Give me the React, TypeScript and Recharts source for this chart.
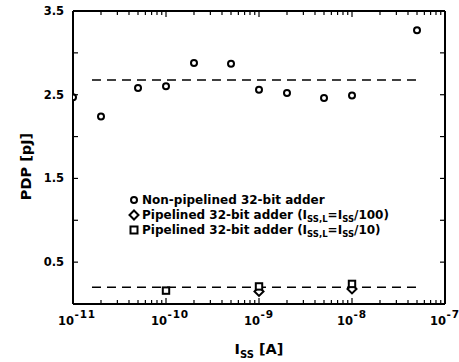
import React from 'react';
import { ScatterChart, Scatter, XAxis, YAxis, ReferenceLine, Legend } from 'recharts';

const FONT = '"DejaVu Sans", sans-serif';

// x positions (A) and PDP (pJ)
const nonPipeX = [1e-11, 2e-11, 5e-11, 1e-10, 2e-10, 5e-10, 1e-9, 2e-9, 5e-9, 1e-8, 5e-8];
const nonPipeY = [2.47, 2.24, 2.58, 2.6, 2.88, 2.87, 2.56, 2.52, 2.46, 2.49, 3.27];

const pipe100X = [1e-9, 1e-8];
const pipe100Y = [0.15, 0.18];

const pipe10X = [1e-10, 1e-9, 1e-8];
const pipe10Y = [0.16, 0.21, 0.24];

// dashed average lines
const avgRange = [1.6e-11, 5e-8];
const avgNonPipe = 2.675;
const avgPipe = 0.2;

const xMajor = [1e-11, 1e-10, 1e-9, 1e-8, 1e-7];
const xMajorExp = ['-11', '-10', '-9', '-8', '-7'];
const xMinorMult = [2, 3, 4, 5, 6, 7, 8, 9];
const xTicks = [
  ...xMajor,
  ...xMajor.slice(0, 4).flatMap((d) => xMinorMult.map((m) => d * m)),
];

const yTicks = [0.5, 1, 1.5, 2, 2.5, 3, 3.5];
const yLabeled = ['0.5', '1.5', '2.5', '3.5'];

const legendNames = ['Non-pipelined 32-bit adder', 'Pipelined 32-bit adder', 'Pipelined 32-bit adder'];
const legendDiv = ['', '100', '10'];

const toPoints = (xs: number[], ys: number[]) => xs.map((x, i) => ({ x, y: ys[i] }));

const majorIndex = (v: number) =>
  xMajor.findIndex((t) => Math.abs(Math.log10(t) - Math.log10(v)) < 1e-6);

const CircleShape = (p: any) => (
  <circle cx={p.cx} cy={p.cy} r={3} fill="#fff" stroke="#000" strokeWidth={2} />
);
const DiamondShape = (p: any) => (
  <path
    d={`M${p.cx},${p.cy - 4.5}L${p.cx + 4.5},${p.cy}L${p.cx},${p.cy + 4.5}L${p.cx - 4.5},${p.cy}Z`}
    fill="#fff"
    stroke="#000"
    strokeWidth={2}
  />
);
const SquareShape = (p: any) => (
  <rect x={p.cx - 3.2} y={p.cy - 3.2} width={6.4} height={6.4} fill="#fff" stroke="#000" strokeWidth={2} />
);
// invisible, only binds the mirror axes so they get drawn
const NoShape = () => <g />;

const BottomTick = (p: any) => {
  const i = majorIndex(p.payload.value);
  const major = i >= 0;
  return (
    <g>
      <path d={`M${p.x},${p.y}V${p.y - (major ? 6 : 4)}`} stroke="#000" strokeWidth={1.2} />
      {major && (
        <g fontFamily={FONT} fontWeight="bold" fill="#000">
          <text x={p.x + 1} y={p.y + 21} fontSize={11.5} textAnchor="end">10</text>
          <text x={p.x + 1.5} y={p.y + 14} fontSize={10.5} letterSpacing={0.8} textAnchor="start">
            {xMajorExp[i]}
          </text>
        </g>
      )}
    </g>
  );
};

const TopTick = (p: any) => {
  const major = majorIndex(p.payload.value) >= 0;
  return <path d={`M${p.x},${p.y}V${p.y + (major ? 6 : 4)}`} stroke="#000" strokeWidth={1.2} />;
};

const LeftTick = (p: any) => {
  const label = p.payload.value.toFixed(1);
  return (
    <g>
      <path d={`M${p.x},${p.y}H${p.x + 5}`} stroke="#000" strokeWidth={1.2} />
      {yLabeled.includes(label) && (
        <text x={p.x - 9} y={p.y + 4} fontSize={11.5} fontFamily={FONT} fontWeight="bold" textAnchor="end" fill="#000">
          {label}
        </text>
      )}
    </g>
  );
};

const RightTick = (p: any) => (
  <path d={`M${p.x},${p.y}H${p.x - 5}`} stroke="#000" strokeWidth={1.2} />
);

const YTitle = (p: any) => {
  const vb = p.viewBox;
  const cx = vb.x + 31;
  const cy = vb.y + vb.height / 2 + 9;
  return (
    <text
      x={cx}
      y={cy}
      transform={`rotate(-90 ${cx} ${cy})`}
      textAnchor="middle"
      fontSize={14.5}
      fontFamily={FONT}
      fontWeight="bold"
      fill="#000"
    >
      PDP [pJ]
    </text>
  );
};

const XTitle = (p: any) => {
  const vb = p.viewBox;
  return (
    <text x={vb.x + vb.width / 2} y={vb.y + 50} textAnchor="middle" fontFamily={FONT} fontWeight="bold" fill="#000" fontSize={14.5}>
      I<tspan fontSize={10} dy={4}>SS</tspan>
      <tspan dy={-4}> [A]</tspan>
    </text>
  );
};

const Sub = ({ children }: { children: React.ReactNode }) => (
  <span style={{ fontSize: 8.5, position: 'relative', top: 3 }}>{children}</span>
);

const markers = [
  <circle cx={6} cy={6} r={3} fill="#fff" stroke="#000" strokeWidth={2} />,
  <path d="M6,1.5L10.5,6L6,10.5L1.5,6Z" fill="#fff" stroke="#000" strokeWidth={2} />,
  <rect x={2.5} y={2.5} width={7} height={7} fill="#fff" stroke="#000" strokeWidth={2} />,
];

const LegendBox = () => (
  <div style={{ fontFamily: FONT, fontWeight: 'bold', fontSize: 12, color: '#000' }}>
    {legendNames.map((name, i) => (
      <div key={i} style={{ display: 'flex', alignItems: 'center', height: 15.4, whiteSpace: 'nowrap' }}>
        <svg width={12} height={12} style={{ marginRight: 2 }}>
          {markers[i]}
        </svg>
        <span>
          {name}
          {legendDiv[i] && (
            <>
              {' (I'}
              <Sub>SS,L</Sub>
              {'=I'}
              <Sub>SS</Sub>
              {'/' + legendDiv[i] + ')'}
            </>
          )}
        </span>
      </div>
    ))}
  </div>
);

export default function App() {
  return (
    <div style={{ position: 'absolute', left: 0, top: 0 }}>
      <ScatterChart width={459} height={362} margin={{ top: 10, right: 13, bottom: 0, left: 0 }}>
        <XAxis
          dataKey="x"
          type="number"
          scale="log"
          domain={[1e-11, 1e-7]}
          allowDataOverflow
          ticks={xTicks}
          interval={0}
          height={58}
          tickSize={0}
          tickMargin={0}
          tickLine={false}
          tick={(p: any) => <BottomTick {...p} />}
          axisLine={{ stroke: '#000', strokeWidth: 2 }}
          label={(p: any) => <XTitle {...p} />}
        />
        <XAxis
          xAxisId="top"
          orientation="top"
          dataKey="x"
          type="number"
          scale="log"
          domain={[1e-11, 1e-7]}
          allowDataOverflow
          ticks={xTicks}
          interval={0}
          height={1}
          tickSize={0}
          tickMargin={0}
          tickLine={false}
          tick={(p: any) => <TopTick {...p} />}
          axisLine={{ stroke: '#000', strokeWidth: 2 }}
        />
        <YAxis
          dataKey="y"
          type="number"
          domain={[0, 3.5]}
          allowDataOverflow
          ticks={yTicks}
          interval={0}
          width={73}
          tickSize={0}
          tickMargin={0}
          tickLine={false}
          tick={(p: any) => <LeftTick {...p} />}
          axisLine={{ stroke: '#000', strokeWidth: 2 }}
          label={(p: any) => <YTitle {...p} />}
        />
        <YAxis
          yAxisId="right"
          orientation="right"
          dataKey="y"
          type="number"
          domain={[0, 3.5]}
          allowDataOverflow
          ticks={yTicks}
          interval={0}
          width={1}
          tickSize={0}
          tickMargin={0}
          tickLine={false}
          tick={(p: any) => <RightTick {...p} />}
          axisLine={{ stroke: '#000', strokeWidth: 2 }}
        />
        <ReferenceLine
          segment={[
            { x: avgRange[0], y: avgNonPipe },
            { x: avgRange[1], y: avgNonPipe },
          ]}
          stroke="#000"
          strokeWidth={1.5}
          strokeDasharray="9 6"
        />
        <ReferenceLine
          segment={[
            { x: avgRange[0], y: avgPipe },
            { x: avgRange[1], y: avgPipe },
          ]}
          stroke="#000"
          strokeWidth={1.5}
          strokeDasharray="9 6"
        />
        <Scatter name={legendNames[0]} data={toPoints(nonPipeX, nonPipeY)} shape={CircleShape} isAnimationActive={false} />
        <Scatter name={legendNames[1]} data={toPoints(pipe100X, pipe100Y)} shape={DiamondShape} isAnimationActive={false} />
        <Scatter name={legendNames[2]} data={toPoints(pipe10X, pipe10Y)} shape={SquareShape} isAnimationActive={false} />
        <Scatter
          xAxisId="top"
          yAxisId="right"
          data={toPoints(nonPipeX, nonPipeY)}
          shape={NoShape}
          legendType="none"
          isAnimationActive={false}
        />
        <Legend
          layout="vertical"
          align="center"
          verticalAlign="middle"
          content={() => <LegendBox />}
          wrapperStyle={{ left: 128, top: 192, width: 'auto', height: 'auto' }}
        />
      </ScatterChart>
    </div>
  );
}
